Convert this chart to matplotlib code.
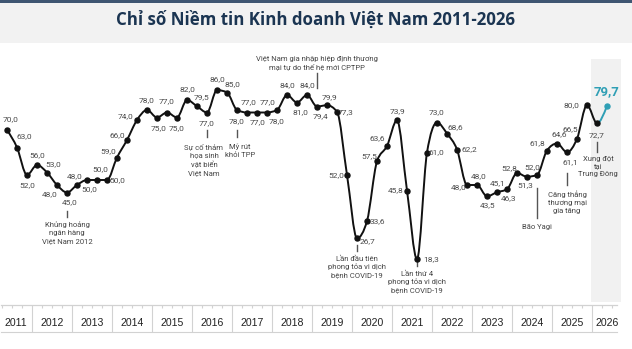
import numpy as np
import pandas as pd
import matplotlib
matplotlib.use("Agg")
import matplotlib.pyplot as plt
from matplotlib.path import Path
from matplotlib.patches import PathPatch, Rectangle

# Quarterly index, 2011Q2 .. 2026Q2
periods = pd.period_range("2011Q2", periods=61, freq="Q")
values = [70.0, 63.0, 52.0, 56.0, 53.0, 48.0, 45.0, 48.0, 50.0, 50.0,
          50.0, 59.0, 66.0, 74.0, 78.0, 75.0, 77.0, 75.0, 82.0, 79.5,
          77.0, 86.0, 85.0, 78.0, 77.0, 77.0, 77.0, 78.0, 84.0, 81.0,
          84.0, 79.4, 79.9, 77.3, 52.0, 26.7, 33.6, 57.5, 63.6, 73.9,
          45.8, 18.3, 61.0, 73.0, 68.6, 62.2, 48.0, 48.0, 43.5, 45.1,
          46.3, 52.8, 51.3, 52.0, 61.8, 64.6, 61.1, 66.5, 80.0, 72.7,
          79.7]
years = list(range(2011, 2027))

# events: (point index, text)
events = [
    (6, "Khủng hoảng\nngân hàng\nViệt Nam 2012"),
    (20, "Sự cố thảm\nhọa sinh\nvật biển\nViệt Nam"),
    (23, "Mỹ rút\nkhỏi TPP"),
    (31, "Việt Nam gia nhập hiệp định thương\nmại tự do thế hệ mới CPTPP"),
    (35, "Lần đầu tiên\nphong tỏa vi dịch\nbệnh COVID-19"),
    (41, "Lần thứ 4\nphong tỏa vi dịch\nbệnh COVID-19"),
    (53, "Bão Yagi"),
    (56, "Căng thẳng\nthương mại\ngia tăng"),
    (59, "Xung đột\ntại\nTrung Đông"),
]

# label placement (dx, dy) in pixels, dy positive = down
label_off = [(4, -11), (7, -11), (0, 10), (0, -10), (6, -8), (-7, 9), (3, 10),
             (-2, -9), (2, 9), (3, -11), (10, 0), (-9, -6), (-10, -5), (-11, -4),
             (0, -10), (2, 11), (0, -11), (0, 11), (0, -11), (5, -9), (0, 11),
             (0, -11), (5, -8), (0, 11), (2, -10), (1, 10), (1, -10), (0, 11),
             (0, -10), (3, 10), (0, -10), (3, 10), (2, -8), (9, 0), (-11, 0),
             (10, 3), (10, 0), (-8, -5), (-10, -8), (0, -9), (-11, 0), (14, 0),
             (9, 0), (0, -10), (8, -6), (12, 0), (-8, 2), (2, -9), (1, 9),
             (1, -9), (2, 9), (-8, -5), (-2, 8), (-5, -8), (-10, -7), (2, -9),
             (3, 10), (-7, -10), (-16, 0), (0, 12), (0, -14)]
# event line (top, bottom), text top (value units), text x shift (px)
event_pos = {6: (37.6, 35.2, 33.4, 0), 20: (70.0, 67.2, 64.6, -3), 23: (70.0, 67.2, 64.6, 3),
             31: (92.8, 86.8, 102.0, 0), 35: (24.0, 21.6, 19.8, 0), 41: (17.2, 15.6, 13.8, 0),
             53: (46.8, 34.8, 32.6, 0), 56: (52.8, 48.0, 45.8, 0), 59: (65.2, 61.2, 59.8, 1)}

x = np.array([p.year + (p.quarter - 0.5) / 4 for p in periods])
y = np.array(values)

BLACK = "#111111"
TEAL = "#2f9fb5"
GRID = "#d2d2d2"
LABEL = "#4a4a4a"

fig = plt.figure(figsize=(6.32, 3.49), dpi=100)
fig.patches.append(Rectangle((0, 1 - 43 / 349), 1, 43 / 349, transform=fig.transFigure,
                             facecolor="#f2f2f2", edgecolor="none", zorder=0))
fig.patches.append(Rectangle((0, 1 - 2.5 / 349), 1, 2.5 / 349, transform=fig.transFigure,
                             facecolor="#3f5672", edgecolor="none", zorder=1))
fig.text(0.5, 1 - 20 / 349, "Chỉ số Niềm tin Kinh doanh Việt Nam 2011-2026",
         ha="center", va="center", fontsize=12.2, fontweight="bold",
         color="#1b3552", family="Open Sans")

ax = fig.add_axes([0, 0, 1, 1])
ax.set_xlim(2011.2, 2027.0)
ax.set_ylim(-17.6, 122)
ax.axis("off")

# highlighted current year
ax.add_patch(Rectangle((2025.98, 1.2), 0.75, 97.2, facecolor="#f1f1f1",
                       edgecolor="none", zorder=0))

# bottom axis
x_end = 2026.62
ax.plot([2011.22, x_end], [0, 0], color=GRID, lw=0.9, zorder=1)
ax.plot([2011.22, x_end], [-10.8, -10.8], color=GRID, lw=0.8, zorder=1)
qt = np.arange(2011.25, 2026.55, 0.25)
qt = qt[np.abs(qt - np.round(qt)) > 1e-6]
ax.vlines(qt, -1.3, 0, color=GRID, lw=0.8)
ax.vlines(years[1:], -10.8, 0, color=GRID, lw=0.8)
for yr in years:
    lo = max(yr, 2011.2)
    hi = min(yr + 1, 2026.75)
    ax.text((lo + hi) / 2, -7.4, str(yr), ha="center", va="center", fontsize=7.6,
            color="#222222", family="Liberation Sans")


# smooth monotone curve through the points
def monotone_verts(xs, ys):
    n = len(xs)
    h = np.diff(xs)
    s = np.diff(ys) / h
    t = np.zeros(n)
    for k in range(1, n - 1):
        p = (s[k - 1] * h[k] + s[k] * h[k - 1]) / (h[k - 1] + h[k])
        t[k] = (np.sign(s[k - 1]) + np.sign(s[k])) * min(abs(s[k - 1]), abs(s[k]), 0.5 * abs(p))
    t[0] = (3 * s[0] - t[1]) / 2
    t[-1] = (3 * s[-1] - t[-2]) / 2
    verts = [(xs[0], ys[0])]
    for k in range(n - 1):
        d = h[k] / 3
        verts += [(xs[k] + d, ys[k] + d * t[k]), (xs[k + 1] - d, ys[k + 1] - d * t[k + 1]),
                  (xs[k + 1], ys[k + 1])]
    return verts


verts = monotone_verts(x, y)
nb = 1 + 3 * (len(x) - 2)
black_path = Path(verts[:nb], [Path.MOVETO] + [Path.CURVE4] * (nb - 1))
teal_path = Path(verts[nb - 1:], [Path.MOVETO] + [Path.CURVE4] * 3)
ax.add_patch(PathPatch(black_path, facecolor="none", edgecolor=BLACK, lw=1.4,
                       capstyle="round", joinstyle="round", zorder=3))
ax.add_patch(PathPatch(teal_path, facecolor="none", edgecolor=TEAL, lw=1.4,
                       capstyle="round", zorder=3))
ax.plot(x[:-1], y[:-1], "o", color=BLACK, ms=3.6, zorder=4)
ax.plot(x[-1:], y[-1:], "o", color=TEAL, ms=3.6, zorder=4)

# value labels
for i, (xi, yi) in enumerate(zip(x, y)):
    dx, dy = label_off[i]
    txt = f"{yi:.1f}".replace(".", ",")
    if i == len(x) - 1:
        ax.annotate(txt, (xi, yi), xytext=(dx * 0.72, -dy * 0.72), textcoords="offset points",
                    ha="center", va="center", fontsize=9.5, fontweight="bold", color=TEAL,
                    family="Roboto", zorder=5)
    else:
        ax.annotate(txt, (xi, yi), xytext=(dx * 0.72, -dy * 0.72), textcoords="offset points",
                    ha="center", va="center", fontsize=6, color=LABEL, family="Roboto", zorder=5)

# events
for i, txt in events:
    top, bot, ty, sx = event_pos[i]
    ax.plot([x[i], x[i]], [bot, top], color="#555555", lw=1.0, zorder=2)
    va = "bottom" if ty > top else "top"
    if va == "bottom":
        ty = top + 1.0
    ax.text(x[i] + sx / 40, ty, txt, ha="center", va=va, fontsize=5.5, color="#444444",
            family="Roboto", linespacing=1.35, zorder=5)

fig.savefig("out.png", dpi=100)
